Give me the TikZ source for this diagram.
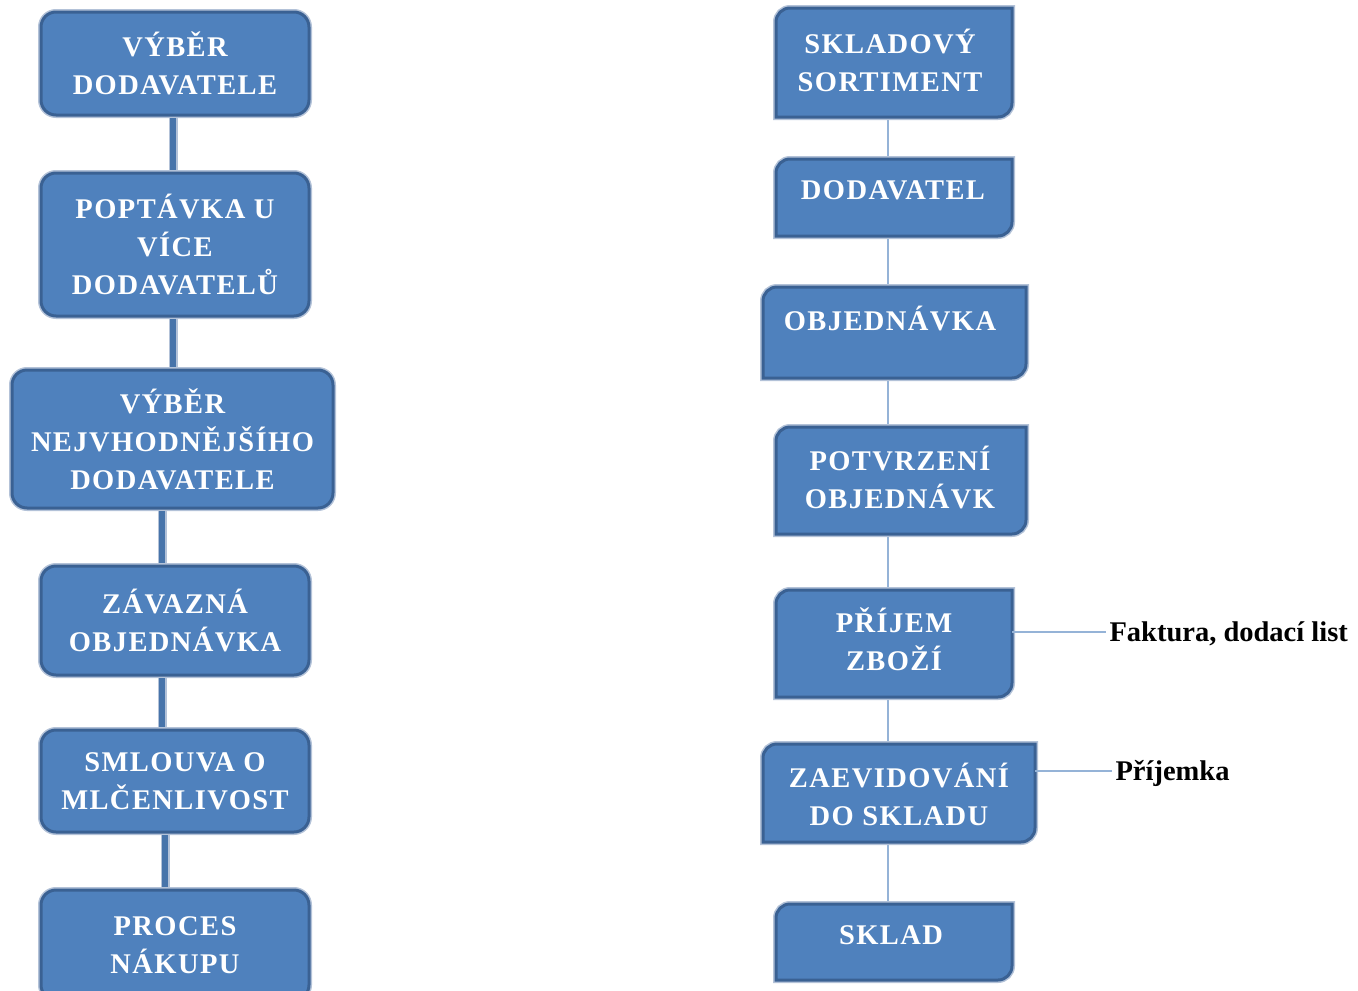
\documentclass[tikz,border=0pt]{standalone}
\usepackage{fontspec}
\setmainfont{Liberation Serif}
\newfontfamily\boxfont[LetterSpace=5]{Liberation Serif}
\usetikzlibrary{calc}
\definecolor{boxfill}{HTML}{4F81BD}
\definecolor{boxline}{HTML}{3A6193}
\definecolor{halo}{HTML}{B3C2D8}
\definecolor{thinline}{HTML}{95B3D7}
\newcommand\drawrshape[1]{%
  \path[rshape] (#1.south west) -- ($(#1.north west)+(0,-14pt)$)
    arc[start angle=180,end angle=90,radius=14pt] -- (#1.north east)
    -- ($(#1.south east)+(0,14pt)$)
    arc[start angle=0,end angle=-90,radius=14pt] -- cycle;}
\tikzset{
  txt/.style={font=\fontsize{28.5}{38}\selectfont\bfseries, align=center},
  btxt/.style={font=\boxfont\fontsize{28.5}{38}\selectfont\bfseries, align=center},
  lbox/.style={btxt, text=white, fill=boxfill, draw=boxline, line width=3pt,
    rounded corners=15pt, inner sep=0pt,
    preaction={draw=halo, line width=6pt}},
  rboxarea/.style={inner sep=0pt, outer sep=0pt},
  rshape/.style={fill=boxfill, draw=boxline, line width=3pt,
    preaction={draw=halo, line width=6pt}},
  rtext/.style={btxt, text=white, inner sep=0pt},
  lconn/.style={draw=boxfill!90!black, line width=6pt,
    preaction={draw=halo, line width=9pt}},
  rconn/.style={draw=thinline, line width=2.2pt},
  side/.style={txt, text=black, anchor=west}
}
\begin{document}
\begin{tikzpicture}[x=1pt,y=1pt]
\useasboundingbox (0,0) rectangle (1358,-991);
\clip (0,0) rectangle (1358,-991);
\fill[white] (0,0) rectangle (1358,-991);

% ---------- left column ----------
\node[lbox, minimum width=268pt, minimum height=103pt] (l1) at (175,-63.5) {VÝBĚR\\DODAVATELE};
\node[lbox, minimum width=268pt, minimum height=143pt] (l2) at (175,-244.5) {POPTÁVKA U\\VÍCE\\DODAVATELŮ};
\node[lbox, minimum width=321pt, minimum height=138pt] (l3) at (172.5,-439) {VÝBĚR\\NEJVHODNĚJŠÍHO\\DODAVATELE};
\node[lbox, minimum width=268pt, minimum height=109pt] (l4) at (175,-620.5) {ZÁVAZNÁ\\OBJEDNÁVKA};
\node[lbox, minimum width=268pt, minimum height=102pt] (l5) at (175,-781) {SMLOUVA O\\MLČENLIVOST};
\node[lbox, minimum width=268pt, minimum height=110pt] (l6) at (175,-945) {PROCES\\NÁKUPU};

\draw[lconn] ([yshift=-1.5pt]l1.south -| 173,0) -- ([yshift=1.5pt]l2.north -| 173,0);
\draw[lconn] ([yshift=-1.5pt]l2.south -| 173,0) -- ([yshift=1.5pt]l3.north -| 173,0);
\draw[lconn] ([yshift=-1.5pt]l3.south -| 162,0) -- ([yshift=1.5pt]l4.north -| 162,0);
\draw[lconn] ([yshift=-1.5pt]l4.south -| 162,0) -- ([yshift=1.5pt]l5.north -| 162,0);
\draw[lconn] ([yshift=-1.5pt]l5.south -| 165,0) -- ([yshift=1.5pt]l6.north -| 165,0);

% ---------- right column ----------
\node[rboxarea, minimum width=236pt, minimum height=109pt] (r1) at (894,-62.5) {};
\node[rboxarea, minimum width=236pt, minimum height=77pt] (r2) at (894,-197.5) {};
\node[rboxarea, minimum width=263pt, minimum height=91pt] (r3) at (894.5,-332.5) {};
\node[rboxarea, minimum width=250pt, minimum height=107pt] (r4) at (901,-480.5) {};
\node[rboxarea, minimum width=236pt, minimum height=107pt] (r5) at (894,-643.5) {};
\node[rboxarea, minimum width=272pt, minimum height=98pt] (r6) at (899,-793) {};
\node[rboxarea, minimum width=236pt, minimum height=76pt] (r7) at (894,-942) {};

\draw[rconn] (r1.south -| 888,0) -- (r2.north -| 888,0);
\draw[rconn] (r2.south -| 888,0) -- (r3.north -| 888,0);
\draw[rconn] (r3.south -| 888,0) -- (r4.north -| 888,0);
\draw[rconn] (r4.south -| 888,0) -- (r5.north -| 888,0);
\draw[rconn] (r5.south -| 888,0) -- (r6.north -| 888,0);
\draw[rconn] (r6.south -| 888,0) -- (r7.north -| 888,0);

\foreach \n in {r1,r2,r3,r4,r5,r6,r7} {\drawrshape{\n}}

\node[rtext] (r1t) at (890,-60.5) {SKLADOVÝ\\SORTIMENT};
\node[rtext] (r2t) at (893,-190) {DODAVATEL};
\node[rtext] (r3t) at (890,-318) {OBJEDNÁVKA};
\node[rtext] (r4t) at (900,-477.5) {POTVRZENÍ\\OBJEDNÁVK};
\node[rtext] (r5t) at (894,-639.5) {PŘÍJEM\\ZBOŽÍ};
\node[rtext] (r6t) at (899,-794) {ZAEVIDOVÁNÍ\\DO SKLADU};
\node[rtext] (r7t) at (891,-935) {SKLAD};

% side labels
\node[side] (fak) at (1106,-634) {Faktura, dodací list};
\node[side] (prij) at (1112,-773) {Příjemka};
\draw[rconn] (r5.east |- 0,-632) -- (fak.west |- 0,-632);
\draw[rconn] (r6.east |- 0,-771) -- (prij.west |- 0,-771);
\end{tikzpicture}
\end{document}
